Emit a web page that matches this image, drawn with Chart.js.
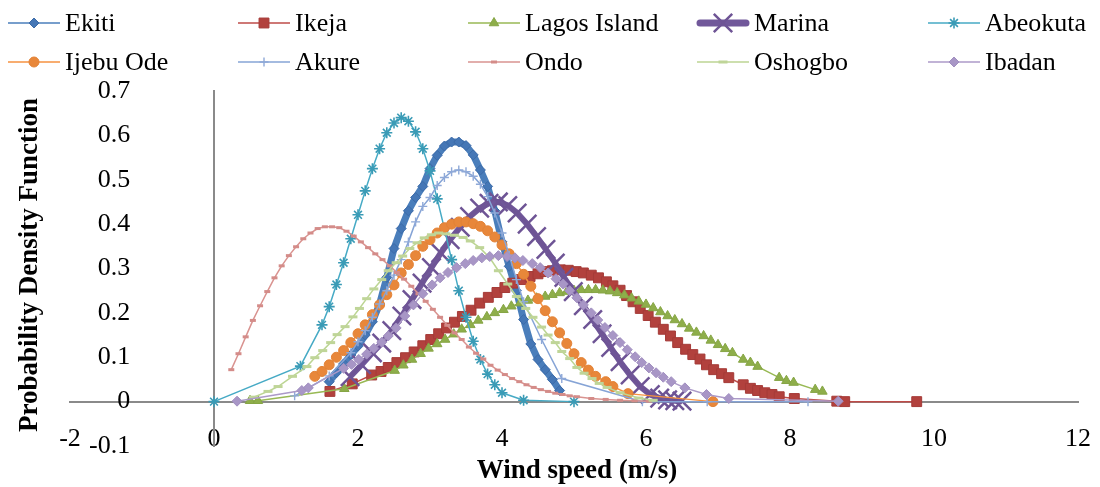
<!DOCTYPE html>
<html>
<head>
<meta charset="utf-8">
<title>Wind speed PDF</title>
<script src="https://cdn.jsdelivr.net/npm/chart.js@4/dist/chart.umd.min.js"></script>
<style>
    html, body { margin: 0; padding: 0; background: #fff; }
    #wrap { width: 1100px; height: 487px; position: relative; }
</style>
</head>
<body>
<div id="wrap"><canvas id="pdfChart"></canvas></div>
<script>
// stations, in legend order
const stations = ['Ekiti', 'Ikeja', 'Lagos Island', 'Marina', 'Abeokuta',
                  'Ijebu Ode', 'Akure', 'Ondo', 'Oshogbo', 'Ibadan'];

// [wind speed, pdf]
const ekiti = [[1.6,0.045],[1.7,0.065],[1.8,0.085],[1.9,0.105],[2.0,0.125],[2.1,0.15],[2.2,0.18],[2.3,0.22],
    [2.4,0.28],[2.5,0.345],[2.6,0.39],[2.7,0.43],[2.8,0.46],[2.9,0.485],[3.0,0.525],[3.1,0.555],[3.2,0.576],
    [3.3,0.585],[3.4,0.585],[3.5,0.577],[3.6,0.556],[3.7,0.522],[3.8,0.485],[3.9,0.43],[4.0,0.36],[4.1,0.305],
    [4.2,0.25],[4.3,0.185],[4.4,0.13],[4.5,0.095],[4.6,0.072],[4.7,0.05],[4.8,0.025]];
const ikeja = [[1.61,0.023],[1.92,0.04],[2.19,0.06],[2.32,0.068],[2.42,0.077],[2.54,0.088],[2.66,0.099],
    [2.78,0.112],[2.9,0.126],[3.01,0.14],[3.12,0.153],[3.23,0.166],[3.34,0.179],[3.45,0.192],[3.57,0.206],
    [3.69,0.222],[3.81,0.235],[3.93,0.246],[4.04,0.257],[4.15,0.267],[4.27,0.275],[4.39,0.282],[4.5,0.288],
    [4.6,0.293],[4.7,0.295],[4.81,0.297],[4.92,0.296],[5.03,0.293],[5.13,0.29],[5.24,0.285],[5.34,0.279],
    [5.45,0.27],[5.54,0.261],[5.64,0.251],[5.73,0.239],[5.82,0.225],[5.92,0.21],[6.03,0.194],[6.13,0.179],
    [6.24,0.163],[6.34,0.148],[6.44,0.133],[6.55,0.118],[6.65,0.106],[6.75,0.096],[6.84,0.083],[6.94,0.072],
    [7.05,0.063],[7.15,0.054],[7.35,0.038],[7.45,0.03],[7.55,0.025],[7.65,0.02],[7.75,0.016],[7.85,0.011],
    [8.06,0.007],[8.65,0.001],[8.76,0],[9.76,0]];
const lagosIsland = [[0.5,0.002],[0.61,0.002],[1.81,0.029],[2.51,0.07],[2.63,0.082],[2.75,0.095],[2.87,0.108],
    [2.98,0.12],[3.1,0.13],[3.21,0.14],[3.33,0.152],[3.44,0.163],[3.56,0.173],[3.67,0.183],[3.79,0.191],
    [3.9,0.2],[4.02,0.207],[4.13,0.215],[4.25,0.222],[4.36,0.228],[4.48,0.233],[4.6,0.237],[4.7,0.241],
    [4.8,0.245],[4.9,0.248],[5.0,0.25],[5.1,0.252],[5.2,0.252],[5.3,0.252],[5.4,0.251],[5.5,0.249],[5.6,0.245],
    [5.7,0.24],[5.8,0.233],[5.9,0.226],[6.0,0.219],[6.1,0.211],[6.2,0.202],[6.3,0.193],[6.4,0.184],[6.5,0.175],
    [6.6,0.165],[6.7,0.156],[6.8,0.148],[6.9,0.138],[7.0,0.128],[7.1,0.119],[7.2,0.11],[7.35,0.095],
    [7.45,0.088],[7.55,0.079],[7.85,0.054],[7.95,0.047],[8.05,0.043],[8.35,0.027],[8.45,0.023]];
const marina = [[1.89,0.056],[2.05,0.083],[2.2,0.11],[2.33,0.132],[2.47,0.16],[2.61,0.193],[2.75,0.23],
    [2.89,0.267],[3.02,0.302],[3.15,0.335],[3.28,0.365],[3.42,0.393],[3.55,0.417],[3.69,0.436],[3.82,0.447],
    [3.95,0.45],[4.08,0.442],[4.21,0.425],[4.35,0.4],[4.48,0.372],[4.61,0.343],[4.74,0.312],[4.86,0.28],
    [4.99,0.248],[5.13,0.216],[5.26,0.185],[5.39,0.153],[5.51,0.122],[5.64,0.09],[5.78,0.06],[5.92,0.034],
    [6.06,0.016],[6.19,0.008],[6.3,0.004],[6.4,0.002],[6.5,0.001]];
const abeokuta = [[0,0],[1.2,0.08],[1.5,0.173],[1.6,0.214],[1.7,0.264],[1.8,0.313],[1.9,0.367],[2.0,0.421],
    [2.1,0.475],[2.2,0.525],[2.3,0.57],[2.4,0.606],[2.5,0.628],[2.6,0.64],[2.7,0.632],[2.8,0.608],[2.9,0.57],
    [3.0,0.52],[3.1,0.457],[3.2,0.39],[3.3,0.32],[3.4,0.25],[3.5,0.19],[3.6,0.136],[3.7,0.095],[3.8,0.062],
    [3.9,0.038],[4.0,0.02],[4.3,0.003],[5.0,0]];
const ijebuOde = [[1.4,0.057],[1.5,0.068],[1.6,0.083],[1.7,0.1],[1.8,0.115],[1.9,0.133],[2.0,0.153],[2.1,0.173],
    [2.2,0.196],[2.3,0.218],[2.4,0.241],[2.5,0.263],[2.6,0.29],[2.7,0.309],[2.8,0.329],[2.9,0.35],[3.0,0.365],
    [3.1,0.38],[3.2,0.392],[3.3,0.4],[3.4,0.405],[3.5,0.405],[3.6,0.401],[3.7,0.395],[3.8,0.385],[3.9,0.371],
    [4.0,0.353],[4.1,0.333],[4.2,0.311],[4.3,0.287],[4.4,0.26],[4.5,0.232],[4.6,0.205],[4.7,0.18],[4.8,0.155],
    [4.9,0.131],[5.0,0.108],[5.1,0.088],[5.2,0.071],[5.3,0.057],[5.44,0.045],[5.54,0.034],[5.75,0.018],[6.93,0]];
const akure = [[1.12,0.013],[1.6,0.058],[1.9,0.11],[2.0,0.135],[2.1,0.16],[2.2,0.19],[2.3,0.22],[2.4,0.25],
    [2.5,0.285],[2.6,0.32],[2.7,0.36],[2.8,0.405],[2.9,0.44],[3.0,0.46],[3.1,0.487],[3.2,0.505],[3.3,0.518],
    [3.4,0.522],[3.5,0.518],[3.6,0.508],[3.7,0.49],[3.8,0.462],[3.9,0.425],[4.0,0.38],[4.1,0.33],[4.2,0.275],
    [4.3,0.225],[4.55,0.14],[4.83,0.052],[5.95,0],[6.85,0],[8.25,0]];
const ondo = [[0.24,0.072],[0.34,0.108],[0.44,0.146],[0.54,0.183],[0.64,0.216],[0.74,0.248],[0.84,0.279],
    [0.94,0.306],[1.04,0.329],[1.14,0.349],[1.24,0.367],[1.34,0.38],[1.44,0.39],[1.54,0.394],[1.64,0.394],
    [1.74,0.392],[1.84,0.384],[1.94,0.373],[2.04,0.36],[2.14,0.347],[2.24,0.333],[2.34,0.32],[2.44,0.306],
    [2.54,0.291],[2.64,0.276],[2.74,0.26],[2.84,0.243],[2.94,0.226],[3.04,0.208],[3.14,0.19],[3.24,0.172],
    [3.34,0.155],[3.44,0.14],[3.54,0.123],[3.64,0.109],[3.74,0.096],[3.84,0.082],[3.94,0.071],[4.04,0.061],
    [4.14,0.052],[4.24,0.045],[4.34,0.038],[4.44,0.032],[4.54,0.027],[4.64,0.023],[4.74,0.019],[4.84,0.016],
    [4.94,0.013],[5.04,0.011],[5.24,0.007],[5.44,0.005],[5.64,0.003],[5.84,0.002],[6.04,0.001]];
const oshogbo = [[0.55,0.01],[0.75,0.023],[0.89,0.034],[1.09,0.057],[1.29,0.079],[1.4,0.099],[1.51,0.115],
    [1.62,0.133],[1.71,0.151],[1.82,0.169],[1.93,0.191],[2.02,0.21],[2.12,0.232],[2.22,0.254],[2.33,0.275],
    [2.42,0.295],[2.53,0.313],[2.62,0.328],[2.72,0.345],[2.82,0.358],[2.92,0.369],[3.02,0.376],[3.12,0.38],
    [3.22,0.378],[3.34,0.375],[3.46,0.37],[3.56,0.362],[3.69,0.347],[3.83,0.324],[3.95,0.295],[4.08,0.265],
    [4.2,0.237],[4.33,0.21],[4.43,0.19],[4.55,0.168],[4.64,0.15],[4.74,0.133],[4.83,0.113],[4.94,0.097],
    [5.04,0.077],[5.14,0.064],[5.25,0.052],[5.35,0.041],[5.46,0.032],[5.64,0.02],[5.9,0.008],[6.1,0.003]];
const ibadan = [[0.32,0.001],[1.22,0.025],[1.31,0.031],[1.8,0.075],[1.91,0.084],[2.01,0.095],[2.12,0.107],
    [2.22,0.12],[2.33,0.134],[2.42,0.148],[2.53,0.166],[2.65,0.193],[2.77,0.218],[2.9,0.243],[3.03,0.263],
    [3.14,0.279],[3.25,0.291],[3.37,0.302],[3.49,0.311],[3.6,0.318],[3.72,0.324],[3.83,0.327],[3.95,0.329],
    [4.07,0.327],[4.18,0.324],[4.29,0.318],[4.42,0.311],[4.53,0.302],[4.64,0.29],[4.75,0.277],[4.85,0.265],
    [4.94,0.25],[5.04,0.234],[5.13,0.218],[5.24,0.2],[5.33,0.184],[5.43,0.167],[5.54,0.149],[5.64,0.133],
    [5.74,0.117],[5.85,0.101],[5.94,0.088],[6.04,0.076],[6.14,0.065],[6.24,0.055],[6.35,0.045],[6.54,0.031],
    [6.84,0.016],[7.15,0.007],[8.67,0.001]];

const seriesData = [ekiti, ikeja, lagosIsland, marina, abeokuta, ijebuOde, akure, ondo, oshogbo, ibadan];

const xRange = [-2, 12];
const yRange = [-0.1, 0.7];

// look of each series (line colour, line width, marker)
const styles = [
    { line: '#4A7EBB', width: 7,   legendWidth: 1.5, marker: 'rectRot',  r: 5,   fill: '#4577B6', edge: '#3C6BA8', bw: 1 },
    { line: '#BE4B48', width: 1.5, legendWidth: 1.5, marker: 'rect',     r: 7,   fill: '#B2413D', edge: '#A53B38', bw: 1 },
    { line: '#98B954', width: 1.5, legendWidth: 1.5, marker: 'triangle', r: 5.5, fill: '#8EAE4A', edge: '#86A545', bw: 1 },
    { line: '#71589A', width: 6,   legendWidth: 7,   marker: 'crossRot', r: 13,  fill: '#6E5495', edge: '#6E5495', bw: 2.5 },
    { line: '#46AAC5', width: 1.5, legendWidth: 1.5, marker: 'star',     r: 5.5, fill: '#3A9BB6', edge: '#3A9BB6', bw: 1.6 },
    { line: '#F69240', width: 1.5, legendWidth: 1.5, marker: 'circle',   r: 5,   fill: '#E8873A', edge: '#E28236', bw: 1 },
    { line: '#86A4D6', width: 1.5, legendWidth: 1.5, marker: 'cross',    r: 4.5, fill: '#8FA9D8', edge: '#8FA9D8', bw: 1.4 },
    { line: '#D99390', width: 1.5, legendWidth: 1.5, marker: 'line',     r: 3,   fill: '#D48C89', edge: '#D48C89', bw: 3 },
    { line: '#BCD593', width: 1.5, legendWidth: 1.5, marker: 'line',     r: 4.5, fill: '#BFD598', edge: '#BFD598', bw: 3 },
    { line: '#AC9AC8', width: 1.5, legendWidth: 1.5, marker: 'rectRot',  r: 5,   fill: '#A896C6', edge: '#A18FC0', bw: 1 }
];

const serif = "'Liberation Serif', 'Times New Roman', serif";
const tickFont = { family: serif, size: 26 };

const datasets = stations.map((name, i) => {
    const s = styles[i];
    return {
        label: name,
        data: seriesData[i].map(p => ({ x: p[0], y: p[1] })),
        showLine: true,
        tension: 0,
        borderColor: s.line,
        borderWidth: s.width,
        pointStyle: s.marker,
        pointRadius: s.r,
        pointHoverRadius: s.r,
        pointBackgroundColor: s.fill,
        pointBorderColor: s.edge,
        pointBorderWidth: s.bw,
        order: stations.length - i
    };
});

// axes sitting inside the plot must not eat layout space
function noSpace(scale) {
    if (scale.isHorizontal()) scale.height = 0; else scale.width = 0;
    scale.paddingLeft = scale.paddingRight = scale.paddingTop = scale.paddingBottom = 0;
}

// plain one-decimal labels (avoids "-0.0")
function oneDecimal(value) {
    const v = Math.round(value * 10) / 10;
    return v === 0 ? '0' : String(v);
}

// legend in a fixed 5 x 2 grid, plus the two axis titles
const gridLegend = {
    id: 'gridLegend',
    afterDraw(chart) {
        const ctx = chart.ctx;
        const colX = [8, 238, 468, 697, 928];
        const rowY = [23, 62];
        ctx.save();
        chart.data.datasets.forEach((ds, i) => {
            const s = styles[i];
            const x0 = colX[i % 5];
            const y0 = rowY[Math.floor(i / 5)];
            ctx.strokeStyle = s.line;
            ctx.lineWidth = s.legendWidth;
            ctx.lineCap = s.legendWidth > 3 ? 'round' : 'butt';
            ctx.beginPath();
            ctx.moveTo(x0 + (s.legendWidth > 3 ? 3 : 0), y0);
            ctx.lineTo(x0 + 52 - (s.legendWidth > 3 ? 3 : 0), y0);
            ctx.stroke();
            ctx.lineCap = 'butt';
            ctx.fillStyle = s.fill;
            ctx.strokeStyle = s.edge;
            ctx.lineWidth = s.bw;
            Chart.helpers.drawPoint(ctx, { pointStyle: s.marker, radius: s.r, rotation: 0, borderWidth: s.bw }, x0 + 26, y0);
            ctx.fillStyle = '#000';
            ctx.font = '26px ' + serif;
            ctx.textAlign = 'left';
            ctx.textBaseline = 'middle';
            ctx.fillText(ds.label, x0 + 57, y0 + 1);
        });

        ctx.font = 'bold 27px ' + serif;
        ctx.fillStyle = '#000';
        ctx.textAlign = 'center';
        ctx.textBaseline = 'middle';
        ctx.fillText('Wind speed (m/s)', 577, 471);
        ctx.translate(30, 265);
        ctx.rotate(-Math.PI / 2);
        ctx.fillText('Probability Density Function', 0, 0);
        ctx.restore();
    }
};

new Chart(document.getElementById('pdfChart').getContext('2d'), {
    type: 'scatter',
    data: { datasets: datasets },
    plugins: [gridLegend],
    options: {
        responsive: true,
        maintainAspectRatio: false,
        animation: false,
        events: [],
        layout: { padding: { left: 70, right: 22, top: 91, bottom: 41 } },
        plugins: {
            legend: { display: false },
            tooltip: { enabled: false }
        },
        scales: {
            x: {
                type: 'linear',
                min: xRange[0],
                max: xRange[1],
                position: { y: 0 },
                afterFit: noSpace,
                grid: { display: false, drawTicks: false },
                border: { display: true, color: '#8A8A8A', width: 2 },
                ticks: { stepSize: 2, padding: 22, color: '#000', font: tickFont }
            },
            y: {
                type: 'linear',
                min: yRange[0],
                max: yRange[1],
                position: { x: 0 },
                afterFit: noSpace,
                grid: { display: false, drawTicks: false },
                border: { display: true, color: '#8A8A8A', width: 2 },
                ticks: { display: false, stepSize: 0.1 }
            },
            yLabels: {
                type: 'linear',
                axis: 'y',
                min: yRange[0],
                max: yRange[1],
                position: 'left',
                afterFit: noSpace,
                grid: { display: false, drawTicks: false },
                border: { display: false },
                ticks: { stepSize: 0.1, mirror: true, crossAlign: 'far', padding: 19, color: '#000', font: tickFont,
                         callback: oneDecimal }
            }
        }
    }
});
</script>
</body>
</html>
